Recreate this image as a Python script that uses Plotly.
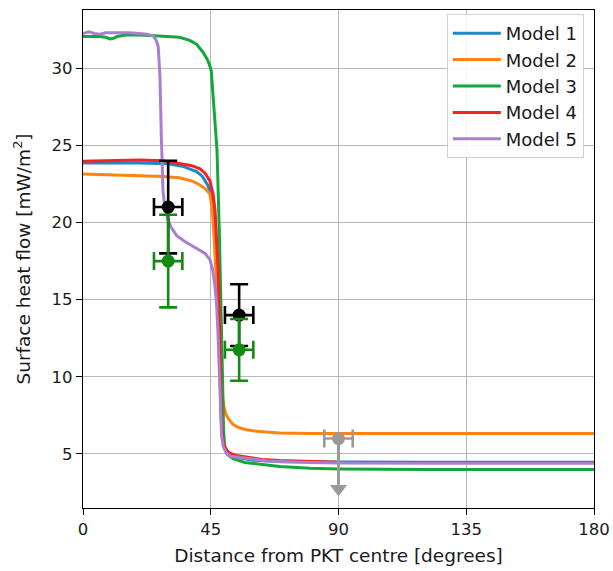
import plotly.graph_objects as go

# ---------------- data ----------------
m1_x = [0, 10, 20, 30, 35, 40, 42, 44, 45.5, 46.5, 47.2, 47.8, 48.3, 48.7, 49.1, 49.7, 50.7, 52, 55, 60, 70, 90, 120, 150, 180]
m1_y = [23.85, 23.85, 23.85, 23.8, 23.65, 23.3, 23.0, 22.4, 21.6, 20.2, 17.5, 14.0, 10.0, 7.2, 6.0, 5.5, 5.15, 4.95, 4.75, 4.6, 4.5, 4.47, 4.47, 4.47, 4.47]

m2_x = [0, 10, 20, 28, 34, 38.7, 41, 43, 44.7, 45.5, 46.2, 46.9, 47.5, 48.1, 48.6, 49.1, 49.6, 50.3, 51.3, 52.9, 55, 57.6, 62, 69.3, 80, 90, 120, 180]
m2_y = [23.15, 23.1, 23.05, 22.98, 22.9, 22.67, 22.45, 22.2, 21.85, 20.9, 19.0, 16.5, 14.0, 11.8, 10.0, 8.8, 8.1, 7.6, 7.25, 6.9, 6.7, 6.57, 6.45, 6.36, 6.33, 6.32, 6.32, 6.32]

m3_x = [0, 3, 6, 8, 9.5, 10.5, 12, 15, 20, 25, 30, 34, 37.6, 40, 42.2, 43.7, 44.6, 45.2, 45.7, 46.3, 47.2, 48.0, 48.8, 49.2, 49.5, 49.9, 51.0, 52.9, 57, 63.4, 69.3, 80, 90, 120, 150, 180]
m3_y = [32.05, 32.05, 32.05, 32.0, 31.9, 31.92, 32.05, 32.15, 32.15, 32.1, 32.05, 32.0, 31.8, 31.55, 31.05, 30.6, 30.2, 29.8, 28.5, 27.0, 24.7, 19.5, 14.0, 9.5, 6.6, 5.5, 4.95, 4.7, 4.45, 4.3, 4.19, 4.08, 4.03, 4.0, 4.0, 4.0]

m4_x = [0, 10, 20, 28, 34, 38, 41.1, 43, 44.7, 45.8, 46.5, 47.0, 47.6, 48.1, 48.5, 48.8, 49.2, 49.8, 50.8, 51.7, 54, 57.6, 63, 69.3, 80, 90, 120, 180]
m4_y = [23.97, 24.0, 24.05, 24.0, 23.82, 23.7, 23.5, 23.2, 22.7, 21.85, 20.8, 19.25, 17.0, 13.5, 9.5, 7.0, 6.0, 5.5, 5.2, 5.05, 4.9, 4.8, 4.65, 4.57, 4.5, 4.47, 4.45, 4.45]

m5_x = [0, 2, 4, 6, 8, 12, 16, 20, 22.5, 24.7, 25.8, 26.5, 27.1, 27.6, 28.2, 28.8, 29.4, 30, 31, 33, 36, 40, 43, 44.7, 45.6, 46.4, 47.0, 47.5, 47.9, 48.4, 48.8, 49.4, 50.5, 52, 57.6, 65, 80, 90, 120, 180]
m5_y = [32.25, 32.35, 32.25, 32.2, 32.3, 32.3, 32.3, 32.25, 32.2, 32.1, 31.8, 31.4, 29.5, 25.5, 22.0, 21.0, 20.5, 20.15, 19.7, 19.15, 18.75, 18.35, 18.0, 17.6, 17.0, 16.0, 14.9, 13.0, 10.6, 8.0, 6.25, 5.5, 5.05, 4.85, 4.7, 4.55, 4.45, 4.42, 4.4, 4.4]

model_names = ["Model 1", "Model 2", "Model 3", "Model 4", "Model 5"]
model_colors = ["#1f88c8", "#ff8412", "#13a83a", "#f52222", "#ab7fd0"]

# observations (x, y, x error, y error)
obs_black_x = [30, 55]
obs_black_y = [21, 14]
obs_black_xerr = [5, 5]
obs_black_yerr = [3, 2]

obs_green_x = [30, 55]
obs_green_y = [17.5, 11.75]
obs_green_xerr = [5, 5]
obs_green_yerr = [3, 2]

# upper limit
lim_x = [90]
lim_y = [6.0]
lim_xerr = [5]
lim_len = [3.0]

x_ticks = [0, 45, 90, 135, 180]
y_ticks = [5, 10, 15, 20, 25, 30]

# ---------------- figure ----------------
fig = go.Figure()
series = [(m1_x, m1_y), (m2_x, m2_y), (m3_x, m3_y), (m4_x, m4_y), (m5_x, m5_y)]
for (xs, ys), name, col in zip(series, model_names, model_colors):
    fig.add_trace(go.Scatter(x=xs, y=ys, mode="lines", name=name,
                             line=dict(color=col, width=3)))

def obs_trace(xs, ys, xe, ye, col):
    return go.Scatter(x=xs, y=ys, mode="markers", showlegend=False,
                      marker=dict(color=col, size=13),
                      error_x=dict(type="data", array=xe, color=col, thickness=2.6, width=9),
                      error_y=dict(type="data", array=ye, color=col, thickness=2.6, width=9))

fig.add_trace(obs_trace(obs_black_x, obs_black_y, obs_black_xerr, obs_black_yerr, "black"))
fig.add_trace(obs_trace(obs_green_x, obs_green_y, obs_green_xerr, obs_green_yerr, "#138a13"))

gray = "#9a9a9a"
fig.add_trace(go.Scatter(x=lim_x, y=lim_y, mode="markers", showlegend=False,
                         marker=dict(color=gray, size=13),
                         error_x=dict(type="data", array=lim_xerr, color=gray, thickness=2.6, width=9),
                         error_y=dict(type="data", symmetric=False, array=[0], arrayminus=lim_len,
                                      color=gray, thickness=3, width=0)))
# arrow head at the end of the upper-limit bar
arrow_y = [v - l - 0.25 for v, l in zip(lim_y, lim_len)]
fig.add_trace(go.Scatter(x=lim_x, y=arrow_y, mode="markers", showlegend=False,
                         marker=dict(color=gray, size=15, symbol="triangle-down")))

tick_font = dict(family="DejaVu Sans", size=16.5, color="#1a1a1a")
title_font = dict(family="DejaVu Sans", size=18.5, color="#1a1a1a")
fig.update_layout(
    width=613, height=571,
    margin=dict(l=83, r=19, t=10, b=63),
    paper_bgcolor="white", plot_bgcolor="white",
    font=tick_font,
    showlegend=True,
    legend=dict(x=0.712, y=0.992, xanchor="left", yanchor="top", itemwidth=48,
                bgcolor="rgba(255,255,255,0.85)", bordercolor="#d0d0d0", borderwidth=1,
                font=dict(family="DejaVu Sans", size=18, color="#1a1a1a")),
)
fig.update_xaxes(range=[0, 180], tickvals=x_ticks, ticktext=[str(v) for v in x_ticks],
                 showgrid=True, gridcolor="#b8b8b8", gridwidth=1, automargin=False,
                 showline=True, linecolor="black", linewidth=1.2, mirror=True,
                 ticks="outside", ticklen=6, tickcolor="black", zeroline=False,
                 title=dict(text="Distance from PKT centre [degrees]", standoff=11, font=title_font),
                 tickfont=tick_font)
fig.update_yaxes(range=[1.5, 33.77], tickvals=y_ticks, ticktext=[str(v) for v in y_ticks],
                 showgrid=True, gridcolor="#b8b8b8", gridwidth=1, automargin=False,
                 showline=True, linecolor="black", linewidth=1.2, mirror=True,
                 ticks="outside", ticklen=6, tickcolor="black", zeroline=False,
                 title=dict(text="Surface heat flow [mW/m<sup>2</sup>]", standoff=16, font=title_font),
                 tickfont=tick_font)

fig.write_html("out.html")
